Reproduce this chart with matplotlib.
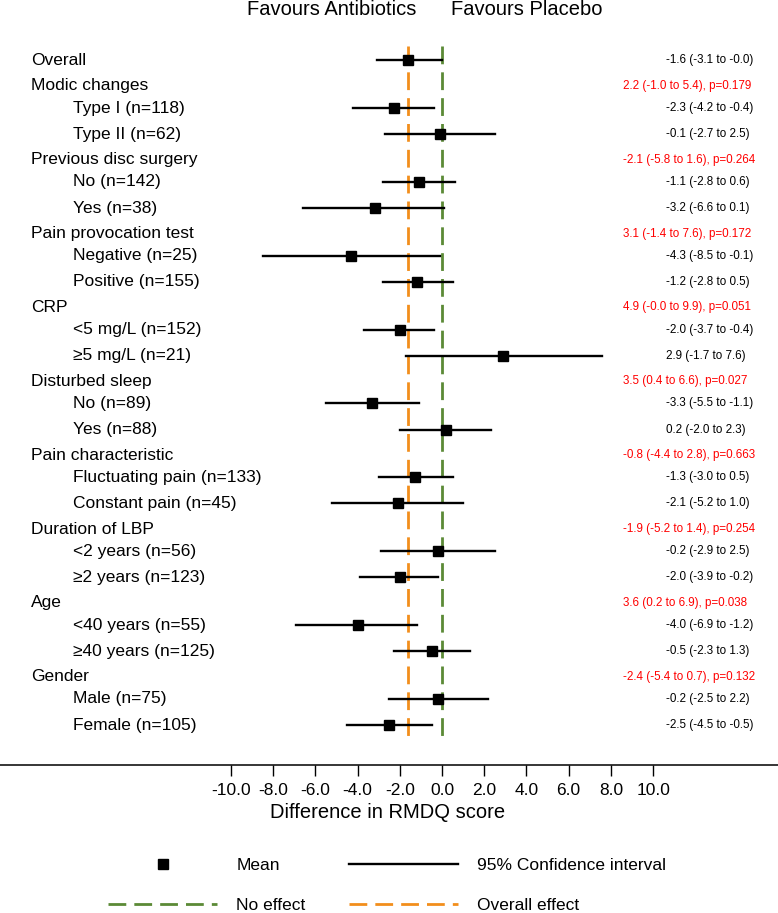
import matplotlib
matplotlib.use("Agg")
import matplotlib.pyplot as plt
from matplotlib.lines import Line2D

plt.rcParams['font.family'] = ['Liberation Sans', 'DejaVu Sans']

# overall estimate
overall = [-1.6, -3.1, -0.0]

# subgroup headers and interaction estimates (red text)
groups = ['Modic changes', 'Previous disc surgery', 'Pain provocation test', 'CRP',
          'Disturbed sleep', 'Pain characteristic', 'Duration of LBP', 'Age', 'Gender']
inter_est = [2.2, -2.1, 3.1, 4.9, 3.5, -0.8, -1.9, 3.6, -2.4]
inter_lo = [-1.0, -5.8, -1.4, -0.0, 0.4, -4.4, -5.2, 0.2, -5.4]
inter_hi = [5.4, 1.6, 7.6, 9.9, 6.6, 2.8, 1.4, 6.9, 0.7]
inter_p = [0.179, 0.264, 0.172, 0.051, 0.027, 0.663, 0.254, 0.038, 0.132]

# two subgroups per header
sub_labels = ['Type I (n=118)', 'Type II (n=62)',
              'No (n=142)', 'Yes (n=38)',
              'Negative (n=25)', 'Positive (n=155)',
              '<5 mg/L (n=152)', '≥5 mg/L (n=21)',
              'No (n=89)', 'Yes (n=88)',
              'Fluctuating pain (n=133)', 'Constant pain (n=45)',
              '<2 years (n=56)', '≥2 years (n=123)',
              '<40 years (n=55)', '≥40 years (n=125)',
              'Male (n=75)', 'Female (n=105)']
sub_mean = [-2.3, -0.1, -1.1, -3.2, -4.3, -1.2, -2.0, 2.9, -3.3, 0.2,
            -1.3, -2.1, -0.2, -2.0, -4.0, -0.5, -0.2, -2.5]
sub_lo = [-4.2, -2.7, -2.8, -6.6, -8.5, -2.8, -3.7, -1.7, -5.5, -2.0,
          -3.0, -5.2, -2.9, -3.9, -6.9, -2.3, -2.5, -4.5]
sub_hi = [-0.4, 2.5, 0.6, 0.1, -0.1, 0.5, -0.4, 7.6, -1.1, 2.3,
          0.5, 1.0, 2.5, -0.2, -1.2, 1.3, 2.2, -0.5]

xticks = [-10, -8, -6, -4, -2, 0, 2, 4, 6, 8, 10]
xtick_labels = ['-10.0', '-8.0', '-6.0', '-4.0', '-2.0', '0.0', '2.0', '4.0', '6.0', '8.0', '10.0']

green = '#5b8a36'
orange = '#f28e1c'

# row positions (row units, top to bottom)
overall_y = 0.0
header_y = []
sub_y = []
h = 0.99
for g in groups:
    header_y.append(h)
    sub_y.append(h + 0.85)
    sub_y.append(h + 1.85)
    h = h + 2.83

fig = plt.figure(figsize=(7.78, 9.13), dpi=100)
ax = fig.add_axes([0, 148 / 913, 1, 765 / 913])
ax.set_xlim(-20.95, 15.92)
ax.set_ylim(27.01, -2.299)

for s in ['left', 'right', 'top']:
    ax.spines[s].set_visible(False)
ax.spines['bottom'].set_linewidth(1.1)
ax.set_yticks([])
ax.set_xticks(xticks)
ax.set_xticklabels(xtick_labels, fontsize=12.5)
ax.tick_params(axis='x', length=8, width=1.0, pad=5)

# reference lines
y_top = overall_y - 0.54
y_bot = sub_y[-1] + 0.57
ax.plot([0, 0], [y_top, y_bot], color=green, lw=2, dashes=(6.4, 2.9), zorder=1)
ax.plot([overall[0], overall[0]], [y_top, y_bot], color=orange, lw=2, dashes=(6.4, 2.9), zorder=1)

# overall
ax.plot([overall[1], overall[2]], [overall_y, overall_y], color='black', lw=1.7, zorder=2)
ax.plot(overall[0], overall_y, marker='s', color='black', ms=6.7, ls='none', zorder=3)

# subgroups
for i in range(len(sub_labels)):
    ax.plot([sub_lo[i], sub_hi[i]], [sub_y[i], sub_y[i]], color='black', lw=1.7, zorder=2)
    ax.plot(sub_mean[i], sub_y[i], marker='s', color='black', ms=6.7, ls='none', zorder=3)

trans = ax.get_yaxis_transform()
ax.text(31 / 778, overall_y, 'Overall', transform=trans, fontsize=12.5, va='center')
ax.text(666 / 778, overall_y, f'{overall[0]:.1f} ({overall[1]:.1f} to {overall[2]:.1f})',
        transform=trans, fontsize=8.4, va='center')

for i, g in enumerate(groups):
    ax.text(31 / 778, header_y[i], g, transform=trans, fontsize=12.5, va='center')
    txt = f'{inter_est[i]:.1f} ({inter_lo[i]:.1f} to {inter_hi[i]:.1f}), p={inter_p[i]:.3f}'
    ax.text(623 / 778, header_y[i], txt, transform=trans, fontsize=8.4, va='center', color='red')

for i, lab in enumerate(sub_labels):
    ax.text(73 / 778, sub_y[i], lab, transform=trans, fontsize=12.5, va='center')
    txt = f'{sub_mean[i]:.1f} ({sub_lo[i]:.1f} to {sub_hi[i]:.1f})'
    ax.text(666 / 778, sub_y[i], txt, transform=trans, fontsize=8.4, va='center')

# headers above the plot
fig.text(332 / 778, 1 - 15 / 913, 'Favours Antibiotics', fontsize=14.5, ha='center', va='baseline')
fig.text(527 / 778, 1 - 15 / 913, 'Favours Placebo', fontsize=14.5, ha='center', va='baseline')

# x label
fig.text(388 / 778, 1 - 818 / 913, 'Difference in RMDQ score', fontsize=14.5, ha='center', va='baseline')

# legend
handles = [
    Line2D([], [], marker='s', color='black', ms=6.7, ls='none'),
    Line2D([], [], color=green, lw=2, dashes=(6.4, 2.9)),
    Line2D([], [], color='black', lw=1.7),
    Line2D([], [], color=orange, lw=2, dashes=(6.4, 2.9)),
]
labels = ['Mean', 'No effect', '95% Confidence interval', 'Overall effect']
fig.legend(handles, labels, ncol=2, loc='upper left', bbox_to_anchor=(108 / 778, 1 - 858 / 913),
           frameon=False, fontsize=12.5, handlelength=6.28, handletextpad=1.1,
           columnspacing=2.5, labelspacing=1.4, borderpad=0, borderaxespad=0)

fig.savefig('out.png', dpi=100)
